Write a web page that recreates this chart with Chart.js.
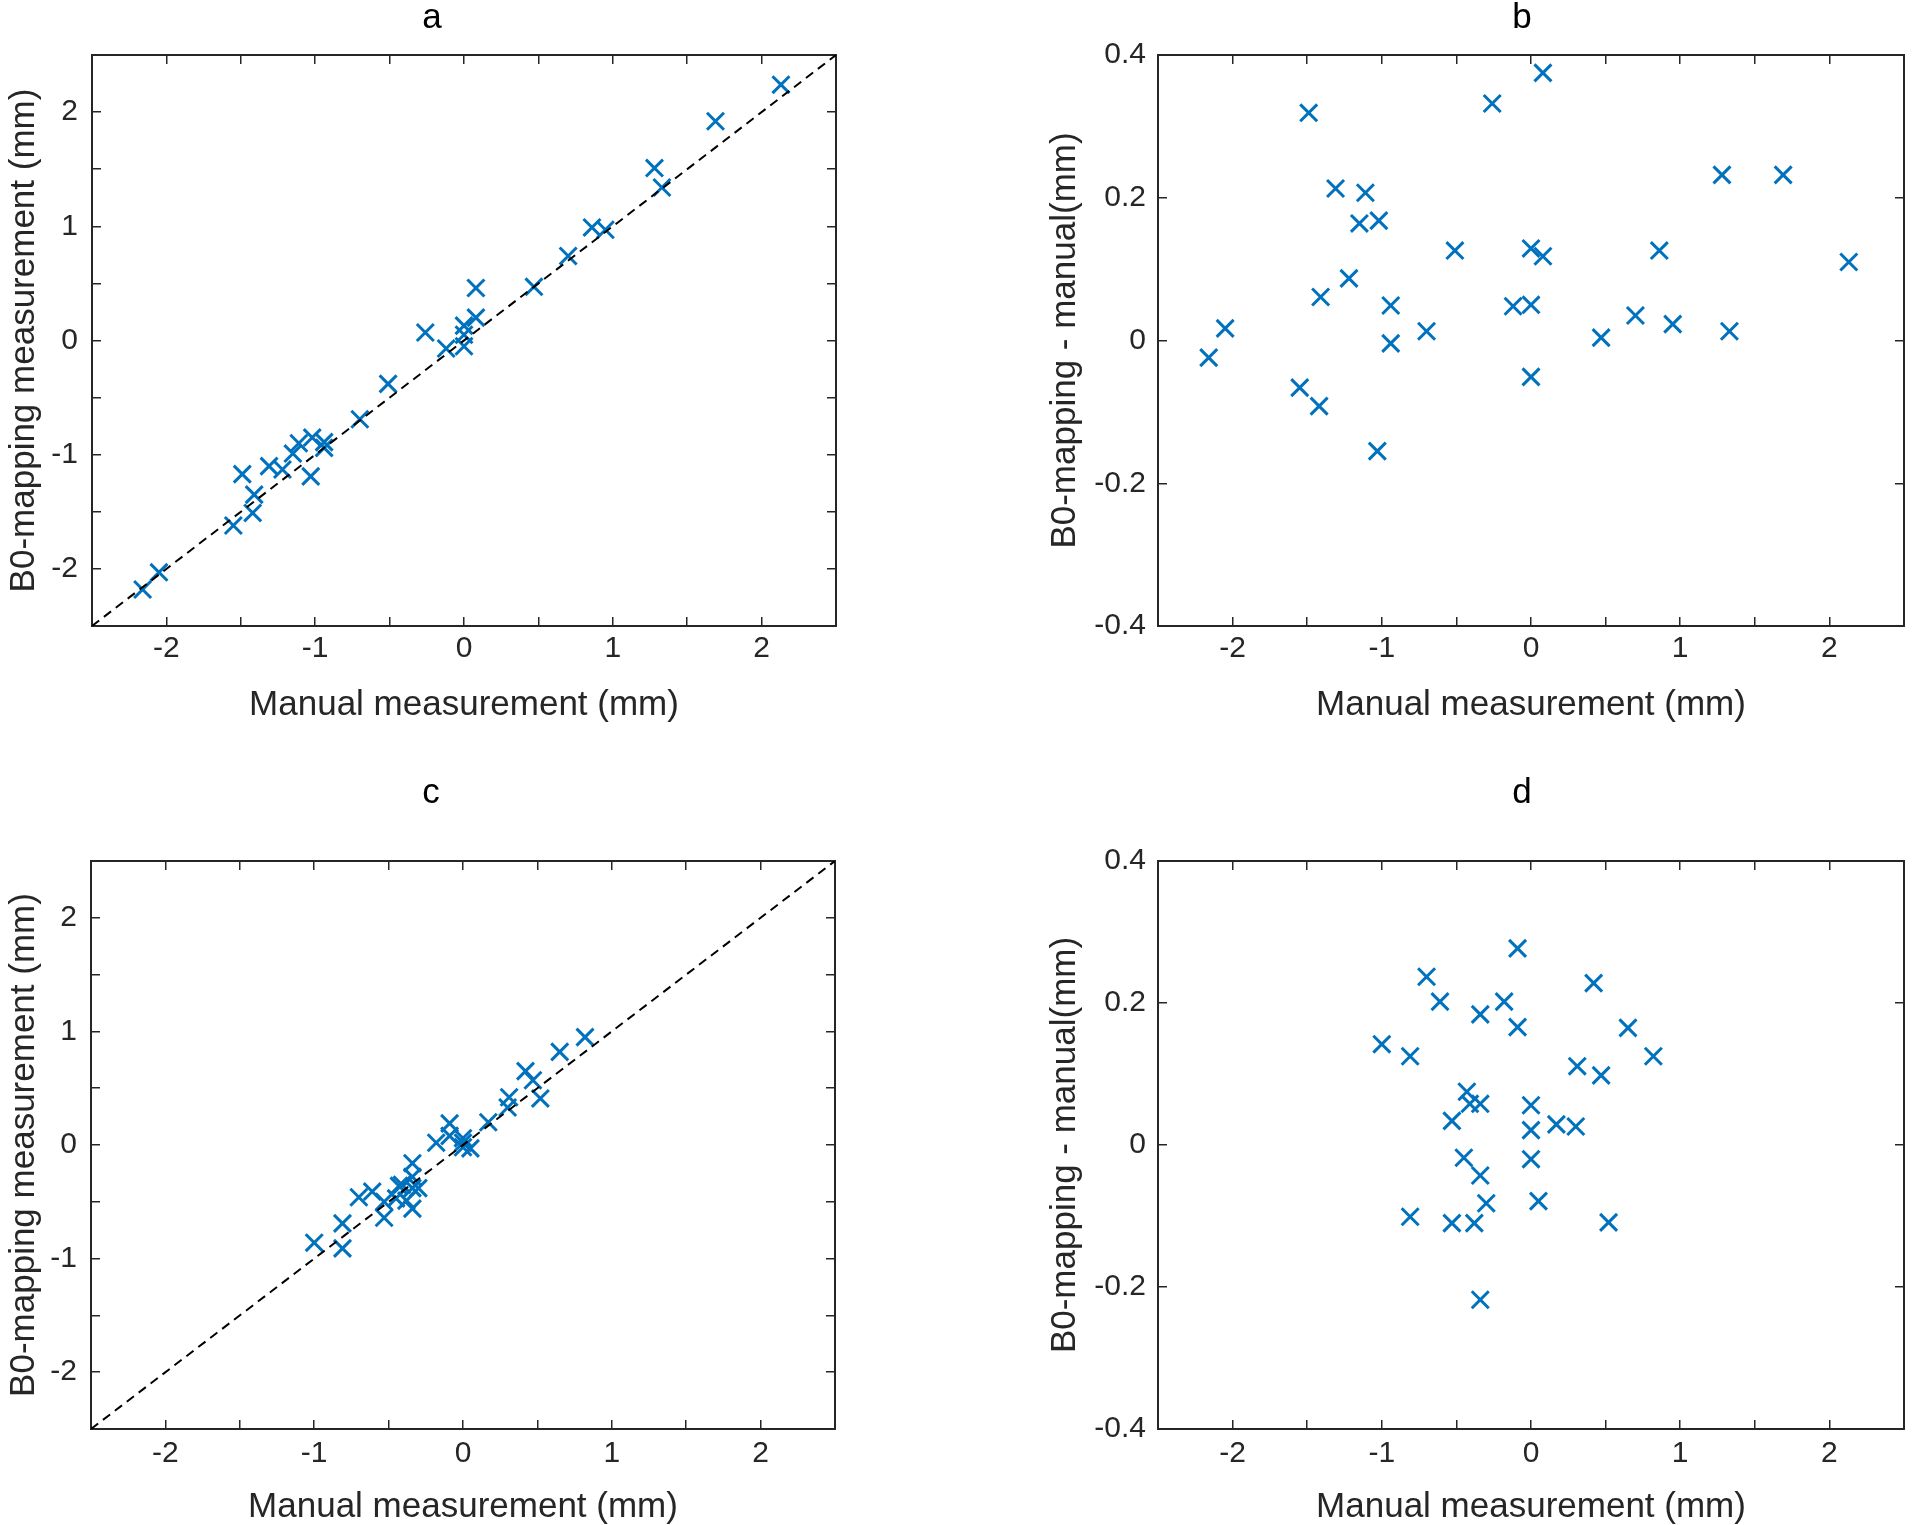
<!DOCTYPE html>
<html>
<head>
<meta charset="utf-8">
<title>B0-mapping vs manual measurement</title>
<script src="https://cdn.jsdelivr.net/npm/chart.js@4.4.1/dist/chart.umd.min.js"></script>
<style>
  html, body { margin: 0; padding: 0; background: #fff; overflow: hidden; }
  .panel { position: absolute; }
</style>
</head>
<body>
<div class="panel" style="left:0;top:0;width:864px;height:730px"><canvas id="chartA"></canvas></div>
<div class="panel" style="left:1030px;top:0;width:890px;height:730px"><canvas id="chartB"></canvas></div>
<div class="panel" style="left:0;top:760px;width:862px;height:765px"><canvas id="chartC"></canvas></div>
<div class="panel" style="left:1030px;top:760px;width:890px;height:765px"><canvas id="chartD"></canvas></div>
<script>
// Axis texts
const xTitle = 'Manual measurement (mm)';
const yTitleAbs = 'B0-mapping measurement (mm)';
const yTitleDiff = 'B0-mapping - manual(mm)';

// Tick labels
const measureTicks = [-2, -1, 0, 1, 2];
const diffTicks = [-0.4, -0.2, 0, 0.2, 0.4];
const measureRange = [-2.5, 2.5];
const diffRange = [-0.4, 0.4];
const identityLine = [-2.5, 2.5];

// Top row (a, b)
const manualTop = [-2.16, -2.05, -1.55, -1.49, -1.42, -1.41, -1.31, -1.22, -1.15, -1.11, -1.02,
  -1.03, -0.94, -0.94, -0.70, -0.51, -0.26, -0.12, 0.00, 0.00, 0.00, 0.08, 0.08, 0.47, 0.70,
  0.86, 0.95, 1.28, 1.33, 1.69, 2.13];
const b0Top = [-2.18, -2.03, -1.62, -1.17, -1.51, -1.35, -1.10, -1.13, -0.99, -0.90, -0.85,
  -1.19, -0.89, -0.94, -0.69, -0.38, 0.07, -0.07, 0.05, 0.13, -0.05, 0.20, 0.46, 0.47, 0.74,
  0.99, 0.97, 1.51, 1.34, 1.92, 2.24];
const diffTop = [-0.024, 0.017, -0.066, 0.319, -0.092, 0.061, 0.213, 0.087, 0.164, 0.207, 0.168,
  -0.155, 0.049, -0.004, 0.013, 0.126, 0.332, 0.048, 0.050, 0.129, -0.051, 0.118, 0.375, 0.004,
  0.035, 0.126, 0.023, 0.232, 0.013, 0.232, 0.110];

// Bottom row (c, d)
const manualBottom = [-1.00, -0.81, -0.70, -0.61, -0.34, -0.18, -0.09, -0.09, 0.42, 0.65, 0.82,
  0.31, 0.47, -0.43, -0.41, -0.34, -0.53, 0.00, 0.00, 0.17, 0.30, -0.45, 0.00, -0.34, -0.30,
  0.05, -0.81, -0.53, -0.38, 0.52, -0.34];
const b0Bottom = [-0.86, -0.69, -0.46, -0.41, -0.16, 0.02, 0.19, 0.08, 0.65, 0.82, 0.95,
  0.42, 0.57, -0.36, -0.35, -0.28, -0.50, 0.06, 0.02, 0.20, 0.33, -0.47, -0.02, -0.38, -0.38,
  -0.03, -0.91, -0.64, -0.49, 0.41, -0.56];
const diffBottom = [0.142, 0.125, 0.237, 0.202, 0.184, 0.202, 0.277, 0.166, 0.228, 0.165, 0.125,
  0.111, 0.098, 0.075, 0.058, 0.058, 0.034, 0.056, 0.021, 0.029, 0.026, -0.018, -0.020, -0.043,
  -0.082, -0.079, -0.101, -0.110, -0.110, -0.109, -0.218];

const fontFamily = '"Liberation Sans", Arial, Helvetica, sans-serif';
const axisColor = '#262626';
const markerColor = '#0072BD';

// Panel letter drawn above each plot
const panelLetter = {
  id: 'panelLetter',
  afterDraw(chart, args, opts) {
    const ctx = chart.ctx;
    ctx.save();
    ctx.font = '35px ' + fontFamily;
    ctx.fillStyle = '#000';
    ctx.textAlign = 'center';
    ctx.textBaseline = 'middle';
    ctx.fillText(opts.text, opts.x, opts.y);
    ctx.restore();
  }
};

function tickLabel(allowed) {
  return v => {
    const r = Math.round(v * 10) / 10;
    return allowed.includes(r) ? String(r) : '';
  };
}

function mainAxis(pos, range, step, labels, title, size, tickPad, titlePad) {
  const horizontal = pos === 'bottom';
  return {
    type: 'linear',
    position: pos,
    min: range[0],
    max: range[1],
    ticks: {
      stepSize: step,
      autoSkip: false,
      maxRotation: 0,
      callback: tickLabel(labels),
      color: axisColor,
      padding: tickPad,
      font: { family: fontFamily, size: 30 }
    },
    grid: { drawOnChartArea: false, tickLength: -9, color: axisColor, lineWidth: 1.5 },
    border: { color: axisColor, width: 2 },
    title: {
      display: true,
      text: title,
      color: axisColor,
      font: { family: fontFamily, size: 35, lineHeight: 1 },
      padding: horizontal ? { top: 0, bottom: titlePad } : { top: titlePad, bottom: 0 }
    },
    afterFit: s => { if (horizontal) s.height = size; else s.width = size; }
  };
}

function mirrorAxis(pos, range, step) {
  return {
    type: 'linear',
    position: pos,
    min: range[0],
    max: range[1],
    ticks: { display: false, stepSize: step },
    grid: { drawOnChartArea: false, tickLength: -9, color: axisColor, lineWidth: 1.5 },
    border: { color: axisColor, width: 2 },
    afterFit: s => { if (pos === 'top') s.height = 0; else s.width = 0; }
  };
}

function points(xs, ys) {
  return xs.map((x, i) => ({ x: x, y: ys[i] }));
}

function makePanel(id, cfg) {
  const datasets = [];
  if (cfg.identity) {
    datasets.push({
      data: points(identityLine, identityLine),
      showLine: true,
      borderColor: '#000',
      borderWidth: 2,
      borderDash: [9, 6],
      pointRadius: 0
    });
  }
  datasets.push({
    data: points(cfg.xs, cfg.ys),
    pointStyle: 'crossRot',
    pointRadius: 12,
    pointHoverRadius: 12,
    borderWidth: 3,
    borderColor: markerColor,
    backgroundColor: markerColor
  });

  new Chart(document.getElementById(id), {
    type: 'scatter',
    data: { datasets: datasets },
    options: {
      responsive: true,
      maintainAspectRatio: false,
      animation: false,
      layout: { padding: { top: cfg.padTop, right: cfg.padRight, left: 0, bottom: 0 } },
      plugins: {
        legend: { display: false },
        tooltip: { enabled: false },
        panelLetter: cfg.letter
      },
      scales: {
        x: mainAxis('bottom', measureRange, 0.5, measureTicks, xTitle, cfg.xSize, cfg.xTickPad, cfg.xTitlePad),
        y: mainAxis('left', cfg.yRange, cfg.yStep, cfg.yTicks, cfg.yTitle, cfg.ySize, cfg.yTickPad, cfg.yTitlePad),
        x2: mirrorAxis('top', measureRange, 0.5),
        y2: mirrorAxis('right', cfg.yRange, cfg.yStep)
      }
    },
    plugins: [panelLetter]
  });
}

window.addEventListener('DOMContentLoaded', () => {
  makePanel('chartA', {
    xs: manualTop, ys: b0Top, identity: true,
    yRange: measureRange, yStep: 0.5, yTicks: measureTicks, yTitle: yTitleAbs,
    padTop: 55, padRight: 28,
    xSize: 104, xTickPad: 14, xTitlePad: 7.5,
    ySize: 92, yTickPad: 23, yTitlePad: 6.5,
    letter: { text: 'a', x: 432, y: 18 }
  });
  makePanel('chartB', {
    xs: manualTop, ys: diffTop, identity: false,
    yRange: diffRange, yStep: 0.2, yTicks: diffTicks, yTitle: yTitleDiff,
    padTop: 55, padRight: 16,
    xSize: 104, xTickPad: 14, xTitlePad: 7.5,
    ySize: 128, yTickPad: 21, yTitlePad: 17.5,
    letter: { text: 'b', x: 492, y: 18 }
  });
  makePanel('chartC', {
    xs: manualBottom, ys: b0Bottom, identity: true,
    yRange: measureRange, yStep: 0.5, yTicks: measureTicks, yTitle: yTitleAbs,
    padTop: 101, padRight: 27,
    xSize: 96, xTickPad: 16, xTitlePad: 0,
    ySize: 91, yTickPad: 23, yTitlePad: 6.5,
    letter: { text: 'c', x: 431, y: 33 }
  });
  makePanel('chartD', {
    xs: manualBottom, ys: diffBottom, identity: false,
    yRange: diffRange, yStep: 0.2, yTicks: diffTicks, yTitle: yTitleDiff,
    padTop: 101, padRight: 16,
    xSize: 96, xTickPad: 16, xTitlePad: 0,
    ySize: 128, yTickPad: 21, yTitlePad: 17.5,
    letter: { text: 'd', x: 492, y: 33 }
  });
});
</script>
</body>
</html>
